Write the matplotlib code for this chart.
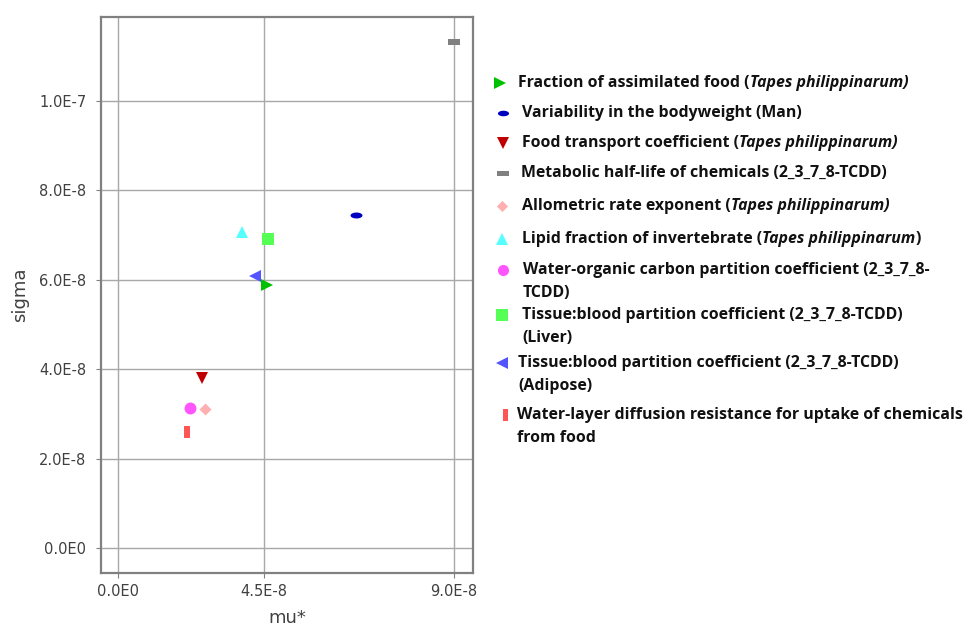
import numpy as np
import matplotlib
matplotlib.use("Agg")
import matplotlib.pyplot as plt
from matplotlib.ticker import FixedLocator, FixedFormatter

# ---------------- data ----------------
mu_star = [4.57e-8, 6.68e-8, 2.59e-8, 9.00e-8, 2.68e-8, 3.82e-8, 2.22e-8, 4.59e-8, 4.22e-8, 2.13e-8]
sigma = [5.89e-8, 7.45e-8, 3.80e-8, 1.132e-7, 3.11e-8, 7.07e-8, 3.13e-8, 6.91e-8, 6.09e-8, 2.60e-8]

legend_lines = [
    [[("Fraction of assimilated food (", False), ("Tapes philippinarum)", True)]],
    [[("Variability in the bodyweight (Man)", False)]],
    [[("Food transport coefficient (", False), ("Tapes philippinarum)", True)]],
    [[("Metabolic half-life of chemicals (2_3_7_8-TCDD)", False)]],
    [[("Allometric rate exponent (", False), ("Tapes philippinarum)", True)]],
    [[("Lipid fraction of invertebrate (", False), ("Tapes philippinarum", True), (")", False)]],
    [[("Water-organic carbon partition coefficient (2_3_7_8-", False)], [("TCDD)", False)]],
    [[("Tissue:blood partition coefficient (2_3_7_8-TCDD)", False)], [("(Liver)", False)]],
    [[("Tissue:blood partition coefficient (2_3_7_8-TCDD)", False)], [("(Adipose)", False)]],
    [[("Water-layer diffusion resistance for uptake of chemicals", False)], [("from food", False)]],
]

x_ticks = [0.0, 4.5e-8, 9.0e-8]
x_tick_labels = ["0.0E0", "4.5E-8", "9.0E-8"]
y_ticks = [0.0, 2e-8, 4e-8, 6e-8, 8e-8, 1e-7]
y_tick_labels = ["0.0E0", "2.0E-8", "4.0E-8", "6.0E-8", "8.0E-8", "1.0E-7"]

# ---------------- styles ----------------
def poly(v):
    return [tuple(p) for p in v]

theta = np.linspace(0, 2 * np.pi, 40)
ellipse = poly(np.c_[np.cos(theta), 0.5 * np.sin(theta)])
hrect = [(-1, -0.45), (1, -0.45), (1, 0.45), (-1, 0.45), (-1, -0.45)]
vrect = [(-0.45, -1), (0.45, -1), (0.45, 1), (-0.45, 1), (-0.45, -1)]
diamond = [(0, 1), (1, 0), (0, -1), (-1, 0), (0, 1)]

markers = [">", ellipse, "v", hrect, diamond, "^", "o", "s", "<", vrect]
colors = ["#00c000", "#0000c0", "#c00000", "#808080", "#ffafaf",
          "#55ffff", "#ff55ff", "#55ff55", "#5555ff", "#ff5555"]

# piecewise-linear x scale (matches the reference axis)
A = 4.5e-8
K2 = 190.0 / 146.0

def fwd(x):
    x = np.asarray(x, dtype=float)
    return np.where(x <= A, x, A + (x - A) * K2)

def inv(y):
    y = np.asarray(y, dtype=float)
    return np.where(y <= A, y, A + (y - A) / K2)

W, H = 971, 627
fig = plt.figure(figsize=(W / 100, H / 100), dpi=100)
fig.patch.set_facecolor("white")
ax = fig.add_axes([101 / W, 1 - 573 / H, (473 - 101) / W, (573 - 17) / H])
ax.set_xscale("function", functions=(fwd, inv))
ax.set_xlim(-0.524e-8, 9.45e-8)
ax.set_ylim(-5.6e-9, 1.188e-7)

ax.set_axisbelow(True)
ax.grid(True, color="#a8a8a8", lw=1.0)

for xv, yv, m, c in zip(mu_star, sigma, markers, colors):
    ax.plot([xv], [yv], marker=m, color=c, ms=8.6, mew=0, ls="none")

ax.xaxis.set_major_locator(FixedLocator(x_ticks))
ax.xaxis.set_major_formatter(FixedFormatter(x_tick_labels))
ax.xaxis.set_minor_locator(FixedLocator([]))
ax.yaxis.set_major_locator(FixedLocator(y_ticks))
ax.yaxis.set_major_formatter(FixedFormatter(y_tick_labels))
ax.tick_params(axis="both", which="major", direction="out", length=3.5,
               color="#808080", labelsize=10.5, labelcolor="#404040")
ax.tick_params(axis="y", pad=7)
ax.tick_params(axis="x", pad=4.5)
for s in ax.spines.values():
    s.set_color("#808080")
    s.set_linewidth(1.6)

ax.set_xlabel("mu*", fontsize=13, color="#404040")
ax.set_ylabel("sigma", fontsize=13, color="#404040")
ax.xaxis.set_label_coords(0.5, -0.081)
ax.xaxis.label.set_va("center")
ax.yaxis.set_label_coords(-0.218, 0.5)
ax.yaxis.label.set_va("center")

# ---------------- legend (pixel overlay) ----------------
ov = fig.add_axes([0, 0, 1, 1], facecolor="none")
ov.set_xlim(0, W)
ov.set_ylim(H, 0)
ov.axis("off")

entry_y = [83, 113, 143, 173, 206, 239, 270, 315, 363, 415]
marker_x = [500, 503, 503, 503, 502, 502, 503, 502, 502, 505]
text_x = [518, 522, 522, 521, 522, 522, 523, 522, 518, 517]
line_gap = 23

FONT = "Open Sans"
FS = 11.45
for i, lines in enumerate(legend_lines):
    ov.plot([marker_x[i]], [entry_y[i]], marker=markers[i], color=colors[i],
            ms=8.0, mew=0, ls="none")
    for j, segs in enumerate(lines):
        y = entry_y[i] + j * line_gap
        prev = None
        for txt, it in segs:
            style = "italic" if it else "normal"
            if prev is None:
                prev = ov.text(text_x[i], y, txt, fontsize=FS, fontweight="bold",
                               fontstyle=style, family=FONT, va="center", ha="left",
                               color="#111111")
            else:
                prev = ov.annotate(txt, xy=(1, 0.5), xycoords=prev, fontsize=FS,
                                   fontweight="bold", fontstyle=style, family=FONT,
                                   va="center", ha="left", color="#111111")

fig.savefig("out.png", dpi=100, facecolor="white")
